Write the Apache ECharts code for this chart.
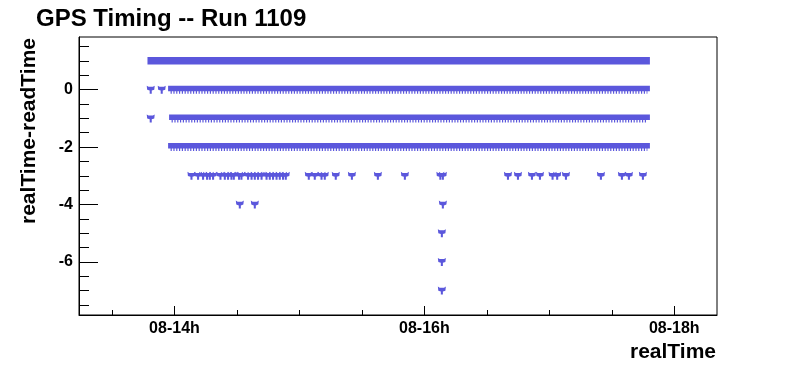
<!DOCTYPE html>
<html><head><meta charset="utf-8">
<script src="https://cdn.jsdelivr.net/npm/echarts@6/dist/echarts.min.js"></script>
<style>html,body{margin:0;padding:0;background:#fff}#c{width:796px;height:372px}</style>
</head><body><div id="c"></div>
<script>
// x values are hours of day 08 (e.g. 14.5 = 08-14h30)
const xMajorTicks = [14, 16, 18];
const xMinorTicks = [13.5, 14.5, 15, 15.5, 16.5, 17, 17.5];
const yMajorTicks = [-6, -4, -2, 0];
const yMinorTicks = [-7.5, -7, -6.5, -5.5, -5, -4.5, -3.5, -3, -2.5, -1.5, -1, -0.5, 0.5, 1, 1.5];

// dense runs of samples (too dense to separate): row value, first and last time
const bandRow   = [1, 0, -1, -2];
const bandStart = [13.812, 13.977, 13.985, 13.977];
const bandEnd   = [17.777, 17.777, 17.777, 17.777];

// isolated samples
const pointTime = [
  13.810, 13.898,
  13.810,
  14.136, 14.189, 14.229, 14.261, 14.283, 14.309, 14.368, 14.403, 14.429, 14.456, 14.475,
  14.517, 14.536, 14.589, 14.617, 14.643, 14.669, 14.697, 14.737, 14.763, 14.789, 14.817,
  14.843, 14.869, 14.891, 15.075, 15.123, 15.177, 15.203, 15.291, 15.420, 15.628, 15.844,
  16.128, 16.148, 16.669, 16.749, 16.861, 16.925, 17.026, 17.063, 17.133, 17.413, 17.581,
  17.637, 17.749,
  14.523, 14.643, 16.148,
  16.140, 16.140, 16.140
];
const pointValue = [
  0, 0,
  -1,
  -3, -3, -3, -3, -3, -3, -3, -3, -3, -3, -3,
  -3, -3, -3, -3, -3, -3, -3, -3, -3, -3, -3,
  -3, -3, -3, -3, -3, -3, -3, -3, -3, -3, -3,
  -3, -3, -3, -3, -3, -3, -3, -3, -3, -3, -3,
  -3, -3,
  -4, -4, -4,
  -5, -6, -7
];

const FONT = '"Liberation Sans", Arial, Helvetica, sans-serif';
const COLOR = '#5b57dc';
const xMin = 13.236, xMax = 18.342, yMin = -7.85, yMax = 1.836;
const starPath = 'path://M0,0 L1.6,1 L5.4,1 L7,0 L6.6,3.6 L4.4,4.3 L4.4,7 L2.6,7 L2.6,4.3 L0.4,3.6 Z';

const chart = echarts.init(document.getElementById('c'));
chart.setOption({
  animation: false,
  backgroundColor: '#fff',
  title: {
    text: 'GPS Timing -- Run 1109', left: 31, top: 2,
    textStyle: {fontFamily: FONT, fontSize: 24, fontWeight: 'bold', color: '#000'}
  },
  grid: {left: 79, right: 79, top: 37, bottom: 57, show: true, borderColor: '#000', borderWidth: 1, backgroundColor: 'transparent'},
  xAxis: [
    {type: 'value', min: xMin, max: xMax, position: 'bottom',
     axisLine: {show: true, onZero: false, lineStyle: {color: '#000', width: 1}},
     axisTick: {show: true, inside: true, length: 9, customValues: xMajorTicks, lineStyle: {color: '#000'}},
     axisLabel: {customValues: xMajorTicks, formatter: v => '08-' + v + 'h', fontFamily: FONT, fontSize: 16, fontWeight: 'bold', color: '#000', margin: 6},
     splitLine: {show: false}},
    {type: 'value', min: xMin, max: xMax, position: 'bottom',
     axisLine: {show: false, onZero: false},
     axisTick: {show: true, inside: true, length: 5, customValues: xMinorTicks, lineStyle: {color: '#000'}},
     axisLabel: {show: false}, splitLine: {show: false}}
  ],
  yAxis: [
    {type: 'value', min: yMin, max: yMax, position: 'left',
     axisLine: {show: true, onZero: false, lineStyle: {color: '#000', width: 1}},
     axisTick: {show: true, inside: true, length: 19, customValues: yMajorTicks, lineStyle: {color: '#000'}},
     axisLabel: {customValues: yMajorTicks, fontFamily: FONT, fontSize: 16, fontWeight: 'bold', color: '#000', margin: 6},
     splitLine: {show: false}},
    {type: 'value', min: yMin, max: yMax, position: 'left',
     axisLine: {show: false, onZero: false},
     axisTick: {show: true, inside: true, length: 10, customValues: yMinorTicks, lineStyle: {color: '#000'}},
     axisLabel: {show: false}, splitLine: {show: false}}
  ],
  graphic: [
    {type: 'text', x: 29, y: 38, rotation: Math.PI / 2,
     style: {text: 'realTime-readTime', font: 'bold 21px ' + FONT, fill: '#000', align: 'right', verticalAlign: 'middle'}},
    {type: 'text', x: 716, y: 342,
     style: {text: 'realTime', font: 'bold 21px ' + FONT, fill: '#000', align: 'right', verticalAlign: 'top'}}
  ],
  series: [
    {type: 'custom', xAxisIndex: 0, yAxisIndex: 0, clip: true,
     data: bandRow.map((r, i) => [bandStart[i], bandEnd[i], r]),
     encode: {x: [0, 1], y: 2},
     renderItem: function (params, api) {
       const s = api.coord([api.value(0), api.value(2)]);
       const e = api.coord([api.value(1), api.value(2)]);
       const w = e[0] - s[0] + 7;
       if (params.dataIndex === 0) {
         return {type: 'rect', shape: {x: s[0] - 3.5, y: s[1] - 4, width: w, height: 7.5}, style: {fill: COLOR}};
       }
       return {type: 'group', children: [
         {type: 'rect', shape: {x: s[0] - 3.5, y: s[1] - 4, width: w, height: 5.5}, style: {fill: COLOR}},
         {type: 'line', shape: {x1: s[0] - 1, y1: s[1] + 2.5, x2: e[0] + 1, y2: s[1] + 2.5},
          style: {stroke: COLOR, lineWidth: 3, lineDash: [1.2, 1.6]}}
       ]};
     }},
    {type: 'scatter', xAxisIndex: 0, yAxisIndex: 0,
     symbol: starPath, symbolSize: 8,
     itemStyle: {color: COLOR, opacity: 1},
     data: pointTime.map((t, i) => [t, pointValue[i]])}
  ]
});
</script></body></html>
